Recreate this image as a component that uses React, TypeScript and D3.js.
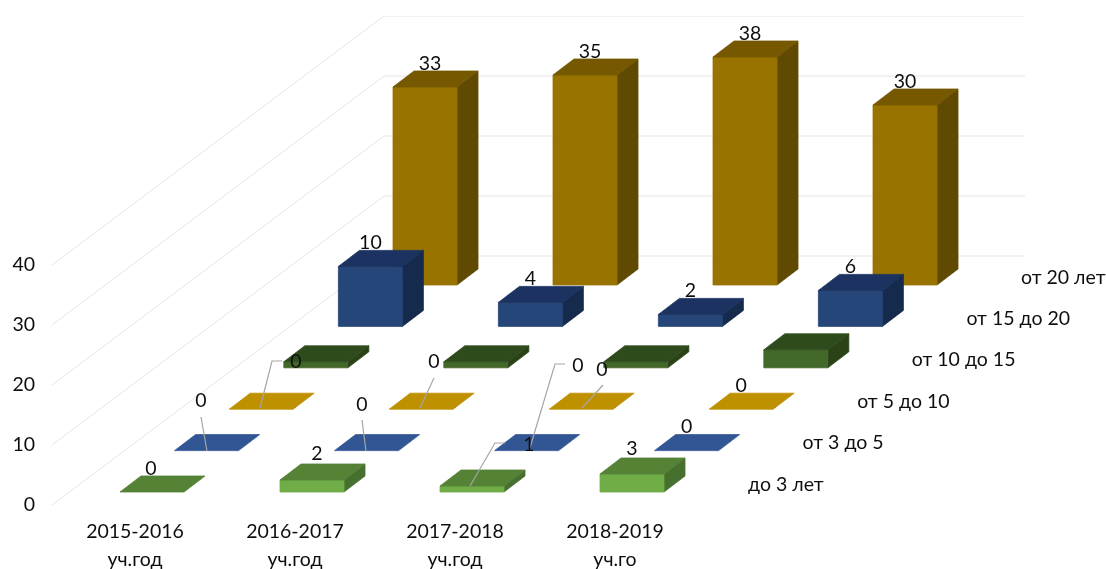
import React, { useEffect, useRef } from 'react';
import * as d3 from 'd3';

const categories = ['2015-2016', '2016-2017', '2017-2018', '2018-2019'];
const categorySub = ['уч.год', 'уч.год', 'уч.год', 'уч.го'];
const seriesNames = ['до 3 лет', 'от 3 до 5', 'от 5 до 10', 'от 10 до 15', 'от 15 до 20', 'от 20 лет'];
const axisTicks = [0, 10, 20, 30, 40];

const upTo3 = [0, 2, 1, 3];
const from3to5 = [0, 0, 0, 0];
const from5to10 = [0, 0, 0, 0];
const from10to15 = [1, 1, 1, 3];
const from15to20 = [10, 4, 2, 6];
const from20 = [33, 35, 38, 30];
const seriesValues = [upTo3, from3to5, from5to10, from10to15, from15to20, from20];

// this row has no data labels in the picture
const unlabelledRow = 3;

// front, top, side
const seriesColors = [
  ['#70AD47', '#548235', '#47702D'],
  ['#2F5597', '#325694', '#2A4A80'],
  ['#BF9000', '#BF9000', '#A07900'],
  ['#43682B', '#2F4B1D', '#2A4317'],
  ['#264478', '#1B3360', '#172B4D'],
  ['#997300', '#755800', '#614900'],
];

// label nudges [row, category, dx, dy] relative to the default spot above a bar
const labelNudges: [number, number, number, number][] = [
  [5, 0, 5, 0], [5, 1, 5, 0], [5, 2, 5, 0],
  [0, 0, -1, 0], [0, 1, 5, -3], [0, 3, 0, -2],
];

// labels pulled away from their bar, with a leader line
const leaders = [
  { row: 1, cat: 0, label: [201, 399], path: [[207, 451], [201, 417]] },
  { row: 1, cat: 1, label: [362, 403], path: [[366, 451], [362, 420]] },
  { row: 1, cat: 2, label: [578, 364], path: [[529, 451], [555, 364], [565, 364]] },
  { row: 2, cat: 0, label: [296, 360], path: [[260, 408], [272, 361], [282, 361]] },
  { row: 2, cat: 1, label: [434, 360], path: [[420, 408], [434, 378]] },
  { row: 2, cat: 2, label: [602, 368], path: [[582, 408], [603, 385]] },
  { row: 0, cat: 2, label: [529, 443], path: [[470, 486], [495, 443], [505, 443]] },
];

const App: React.FC = () => {
  const svgRef = useRef<SVGSVGElement>(null);

  useEffect(() => {
    if (!svgRef.current) return;
    const svg = d3.select(svgRef.current);
    svg.selectAll('*').remove();

    svg
      .append('defs')
      .append('filter')
      .attr('id', 'soft')
      .attr('x', 0)
      .attr('y', 0)
      .attr('width', 1)
      .attr('height', 1)
      .append('feGaussianBlur')
      .attr('stdDeviation', 0.45);

    const root = svg.append('g').attr('filter', 'url(#soft)');
    const font = 'Lato, sans-serif';
    const fontSize = '19.5px';
    const textColor = '#111111';

    // Scales
    const xScale = d3.scaleBand<string>().domain(categories).range([120, 760]);
    const yScale = d3.scaleLinear().domain([0, 40]).range([505, 265]);
    const depthX = d3.scaleLinear().domain([0, 5]).range([0, 273]);
    const depthY = d3.scaleLinear().domain([0, 5]).range([-13, -220]);

    const barW = 64;
    const skewX = 21;
    const skewY = 16;

    // Gridlines
    const wallFront = 52;
    const wallBack = 384;
    const wallEnd = 1025;
    const wallRise = 249;
    axisTicks.forEach(t => {
      root
        .append('path')
        .attr('fill', 'none')
        .attr('stroke', '#E4E4E4')
        .attr('stroke-width', 1)
        .attr(
          'd',
          d3.line()([
            [wallFront, yScale(t)],
            [wallBack, yScale(t) - wallRise],
            [wallEnd, yScale(t) - wallRise],
          ])
        );

      root
        .append('text')
        .attr('x', 35)
        .attr('y', yScale(t) - 2)
        .attr('text-anchor', 'end')
        .attr('dominant-baseline', 'central')
        .style('font-family', font)
        .style('font-size', fontSize)
        .attr('fill', textColor)
        .text(t);
    });

    // Bars, back row first
    d3.range(seriesValues.length - 1, -1, -1).forEach(row => {
      const [front, top, side] = seriesColors[row];
      categories.forEach((c, i) => {
        const v = seriesValues[row][i];
        const x = (xScale(c) as number) + depthX(row);
        const base = yScale(0) + depthY(row);
        const h = yScale(0) - yScale(v);
        const g = root.append('g').attr('stroke-width', 0.8).attr('stroke-linejoin', 'round');

        if (v > 0) {
          g.append('path')
            .attr('fill', side)
            .attr('stroke', side)
            .attr(
              'd',
              d3.line()([
                [x + barW, base],
                [x + barW, base - h],
                [x + barW + skewX, base - h - skewY],
                [x + barW + skewX, base - skewY],
              ]) + 'Z'
            );
          g.append('rect')
            .attr('x', x)
            .attr('y', base - h)
            .attr('width', barW)
            .attr('height', h)
            .attr('fill', front)
            .attr('stroke', front);
        }
        g.append('path')
          .attr('fill', top)
          .attr('stroke', top)
          .attr(
            'd',
            d3.line()([
              [x, base - h],
              [x + barW, base - h],
              [x + barW + skewX, base - h - skewY],
              [x + skewX, base - h - skewY],
            ]) + 'Z'
          );
      });
    });

    // Leader lines
    leaders.forEach(l => {
      root
        .append('path')
        .attr('fill', 'none')
        .attr('stroke', '#A6A6A6')
        .attr('stroke-width', 1.2)
        .attr('d', d3.line()(l.path as [number, number][]));
    });

    // Data labels
    const addLabel = (x: number, y: number, text: string | number) =>
      root
        .append('text')
        .attr('x', x)
        .attr('y', y)
        .attr('text-anchor', 'middle')
        .attr('dominant-baseline', 'central')
        .style('font-family', font)
        .style('font-size', fontSize)
        .attr('fill', textColor)
        .text(text);

    seriesValues.forEach((values, row) => {
      if (row === unlabelledRow) return;
      categories.forEach((c, i) => {
        const leader = leaders.find(l => l.row === row && l.cat === i);
        if (leader) {
          addLabel(leader.label[0], leader.label[1], values[i]);
          return;
        }
        const nudge = labelNudges.find(n => n[0] === row && n[1] === i);
        const x = (xScale(c) as number) + depthX(row) + 32 + (nudge ? nudge[2] : 0);
        const y = yScale(values[i]) + depthY(row) - skewY - 9 + (nudge ? nudge[3] : 0);
        addLabel(x, y, values[i]);
      });
    });

    // Category labels
    categories.forEach((c, i) => {
      const cx = (xScale(c) as number) + 15;
      addLabel(cx, 530, c);
      addLabel(cx, 558, categorySub[i]);
    });

    // Series labels along the depth axis
    seriesNames.forEach((name, row) => {
      root
        .append('text')
        .attr('x', 748 + depthX(row))
        .attr('y', 483 + depthY(row) + 13)
        .attr('dominant-baseline', 'central')
        .style('font-family', font)
        .style('font-size', fontSize)
        .attr('fill', textColor)
        .text(name);
    });
  }, []);

  return (
    <svg
      ref={svgRef}
      width={1106}
      height={569}
      style={{ position: 'absolute', left: 0, top: 0, background: '#fff' }}
    />
  );
};

export default App;
